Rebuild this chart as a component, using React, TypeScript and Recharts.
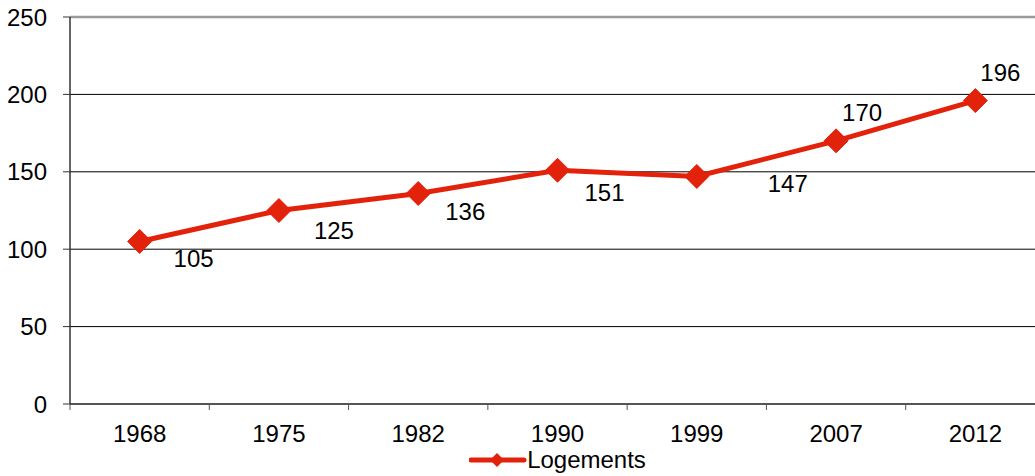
import React from "react";
import { LineChart, Line, XAxis, YAxis, CartesianGrid, Legend, LabelList, ReferenceLine } from "recharts";

const years = ["1968", "1975", "1982", "1990", "1999", "2007", "2012"];
const logements = [105, 125, 136, 151, 147, 170, 196];
const yTicks = [0, 50, 100, 150, 200, 250];
const seriesName = "Logements";
// label placement relative to each point (style, not data)
const labelDx = [54, 55, 47, 47, 91, 26, 25];
const labelDy = [17, 20, 18, 22, 7, -28, -28];

const RED = "#E2220A";
const FONT = "Arial, 'Liberation Sans', Helvetica, sans-serif";
const FS = 24;
const PLOT_W = 975;
const HALF_BAND = PLOT_W / (years.length * 2);
const X_TICK_SIZE = 6;
const X_TICK_MARGIN = 15;

const data = years.map((y, i) => ({ year: y, value: logements[i] }));

const Diamond = (props: any) => {
  const { cx, cy } = props;
  const r = 12;
  if (cx == null || cy == null) return null;
  return (
    <path
      key={`d-${props.index}`}
      d={`M${cx},${cy - r} L${cx + r},${cy} L${cx},${cy + r} L${cx - r},${cy} Z`}
      fill={RED}
      stroke={RED}
      strokeWidth={1}
    />
  );
};

const XTick = (props: any) => {
  const { x, y, payload, index } = props;
  const top = y - X_TICK_SIZE - X_TICK_MARGIN;
  return (
    <g>
      <line x1={x - HALF_BAND} y1={top} x2={x - HALF_BAND} y2={top + X_TICK_SIZE} stroke="#555" strokeWidth={1} />
      {index === years.length - 1 && (
        <line x1={x + HALF_BAND} y1={top} x2={x + HALF_BAND} y2={top + X_TICK_SIZE} stroke="#555" strokeWidth={1} />
      )}
      <text x={x} y={y} dy="0.71em" textAnchor="middle" fontSize={FS} fontFamily={FONT} fill="#000">
        {payload.value}
      </text>
    </g>
  );
};

const renderLabel = (props: any) => {
  const { x, y, value, index } = props;
  return (
    <text
      x={x + labelDx[index]}
      y={y + labelDy[index]}
      textAnchor="middle"
      dominantBaseline="central"
      fontSize={FS}
      fontFamily={FONT}
      fill="#000"
    >
      {value}
    </text>
  );
};

const LegendContent = () => (
  <div style={{ display: "flex", justifyContent: "center", alignItems: "center", height: 32 }}>
    <svg width={58} height={24} style={{ display: "block" }}>
      <line x1={2} y1={12} x2={55} y2={12} stroke={RED} strokeWidth={5} strokeLinecap="round" />
      <path d="M28,5 L35,12 L28,19 L21,12 Z" fill={RED} />
    </svg>
    <span style={{ fontFamily: FONT, fontSize: FS, color: "#000", lineHeight: "24px" }}>{seriesName}</span>
  </div>
);

export default function App() {
  return (
    <div style={{ position: "absolute", left: 0, top: 0, width: 1035, height: 476, overflow: "hidden", background: "#fff" }}>
      <LineChart width={1060} height={476} data={data} margin={{ top: 17, right: 15, left: 0, bottom: 0 }}>
        <CartesianGrid horizontal vertical={false} stroke="#000" strokeWidth={1} />
        <ReferenceLine y={250} stroke="#999" strokeWidth={2.5} />
        <XAxis
          dataKey="year"
          height={40}
          tickSize={X_TICK_SIZE}
          tickMargin={X_TICK_MARGIN}
          interval={0}
          padding={{ left: HALF_BAND, right: HALF_BAND }}
          axisLine={{ stroke: "#555", strokeWidth: 2 }}
          tickLine={false}
          tick={<XTick />}
        />
        <YAxis
          width={70}
          domain={[0, 250]}
          ticks={yTicks}
          interval={0}
          tickSize={7}
          tickMargin={16}
          axisLine={{ stroke: "#333", strokeWidth: 1.5 }}
          tickLine={{ stroke: "#333", strokeWidth: 1 }}
          tick={{ fontSize: FS, fontFamily: FONT, fill: "#000" }}
        />
        <Legend
          verticalAlign="bottom"
          height={32}
          wrapperStyle={{ left: 70, width: 975 }}
          content={<LegendContent />}
        />
        <Line
          type="linear"
          dataKey="value"
          name={seriesName}
          stroke={RED}
          strokeWidth={5}
          dot={<Diamond />}
          activeDot={false}
          isAnimationActive={false}
        >
          <LabelList dataKey="value" content={renderLabel} />
        </Line>
      </LineChart>
    </div>
  );
}
